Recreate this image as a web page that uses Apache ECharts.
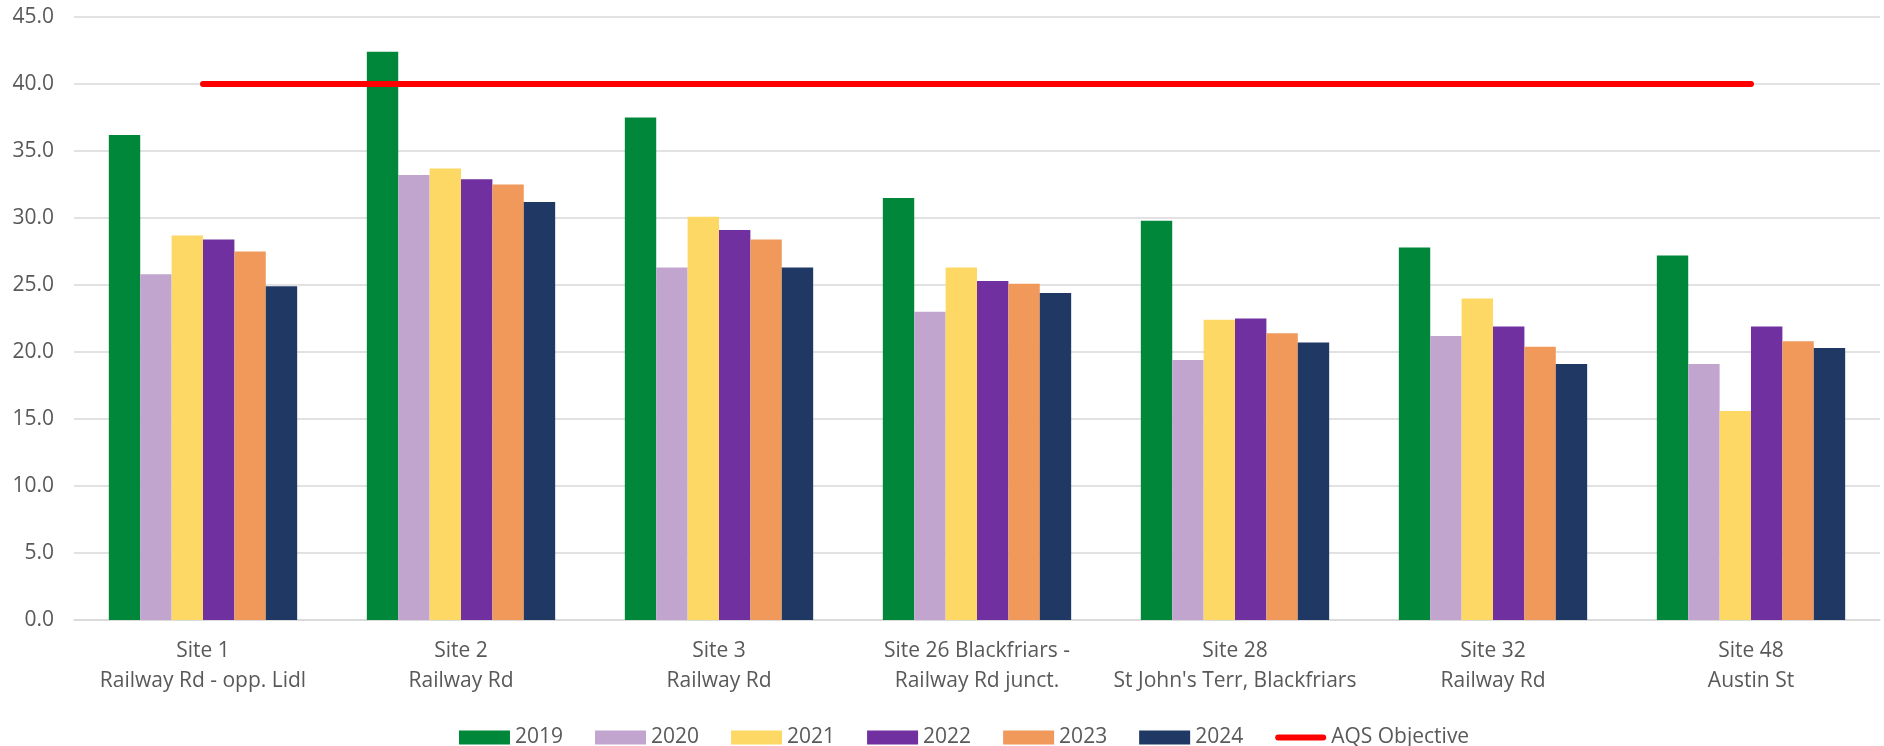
<!DOCTYPE html>
<html>
<head>
<meta charset="utf-8">
<script src="https://cdn.jsdelivr.net/npm/echarts@6/dist/echarts.min.js"></script>
<style>
html,body{margin:0;padding:0;background:#fff;}
#chart{width:1884px;height:746px;}
</style>
</head>
<body>
<div id="chart"></div>
<script>
const categories = [
  "Site 1\nRailway Rd - opp. Lidl",
  "Site 2\nRailway Rd",
  "Site 3\nRailway Rd",
  "Site 26 Blackfriars -\nRailway Rd junct.",
  "Site 28\nSt John's Terr, Blackfriars",
  "Site 32\nRailway Rd",
  "Site 48\nAustin St"
];
const years = ["2019", "2020", "2021", "2022", "2023", "2024"];
const v2019 = [36.2, 42.4, 37.5, 31.5, 29.8, 27.8, 27.2];
const v2020 = [25.8, 33.2, 26.3, 23.0, 19.4, 21.2, 19.1];
const v2021 = [28.7, 33.7, 30.1, 26.3, 22.4, 24.0, 15.6];
const v2022 = [28.4, 32.9, 29.1, 25.3, 22.5, 21.9, 21.9];
const v2023 = [27.5, 32.5, 28.4, 25.1, 21.4, 20.4, 20.8];
const v2024 = [24.9, 31.2, 26.3, 24.4, 20.7, 19.1, 20.3];
const objectiveName = "AQS Objective";
const objective = [40, 40, 40, 40, 40, 40, 40];
const yTicks = { min: 0, max: 45, interval: 5 };

const barData = [v2019, v2020, v2021, v2022, v2023, v2024];
const colors = ["#00873A", "#C2A5CF", "#FDD865", "#7030A0", "#F0995A", "#203864"];

const chart = echarts.init(document.getElementById('chart'), null, {renderer: 'canvas'});
const textFont = "'Open Sans', 'Noto Sans', sans-serif";

const series = years.map((y, i) => ({
  name: y,
  type: 'bar',
  data: barData[i],
  barGap: '0%',
  barCategoryGap: '27%',
  itemStyle: { color: colors[i] },
  emphasis: { disabled: true },
  z: 2
}));
series.push({
  name: objectiveName,
  type: 'line',
  data: objective,
  symbol: 'none',
  lineStyle: { color: '#FF0000', width: 6, cap: 'round' },
  itemStyle: { color: '#FF0000' },
  emphasis: { disabled: true },
  z: 5
});

chart.setOption({
  animation: false,
  textStyle: { fontFamily: textFont },
  grid: { left: 74, right: 4, top: 17, bottom: 126, containLabel: false },
  legend: {
    bottom: -7,
    left: 454,
    itemWidth: 51,
    itemHeight: 14,
    itemGap: 32,
    icon: 'rect',
    textStyle: { color: '#595959', fontSize: 21, fontFamily: textFont },
    data: years.map(y => ({ name: y })).concat([{ name: objectiveName, icon: 'path://M3,0 L48,0 A3,3 0 0 1 48,6 L3,6 A3,3 0 0 1 3,0 Z' }])
  },
  xAxis: {
    type: 'category',
    data: categories,
    axisTick: { show: false },
    axisLine: { show: true, lineStyle: { color: '#D9D9D9', width: 1.5 } },
    axisLabel: { color: '#595959', fontSize: 21, lineHeight: 30, margin: 16, interval: 0, fontFamily: textFont }
  },
  yAxis: {
    type: 'value',
    min: yTicks.min,
    max: yTicks.max,
    interval: yTicks.interval,
    axisLine: { show: false },
    axisTick: { show: false },
    splitLine: { lineStyle: { color: '#D9D9D9', width: 1.5 } },
    axisLabel: { color: '#595959', fontSize: 21, margin: 20, formatter: v => v.toFixed(1), fontFamily: textFont }
  },
  series: series
});
</script>
</body>
</html>
